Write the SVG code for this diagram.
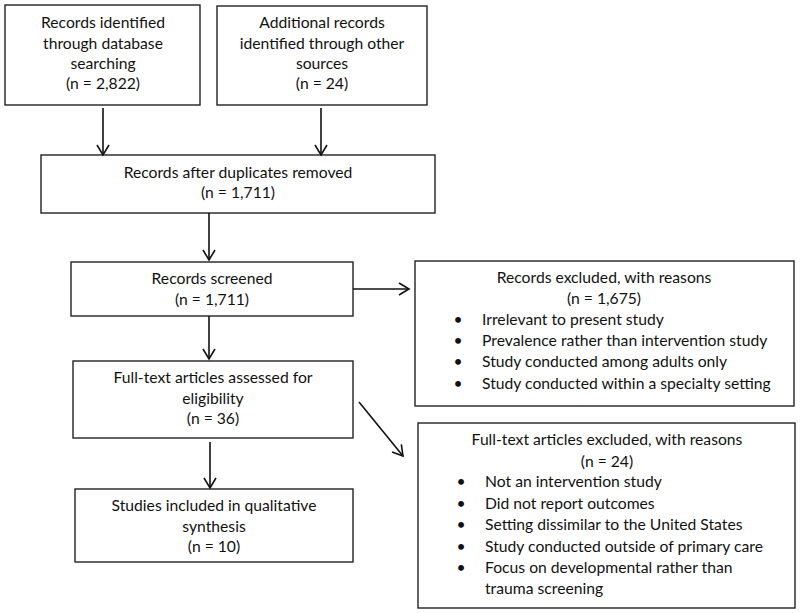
<svg xmlns="http://www.w3.org/2000/svg" width="800" height="613" viewBox="0 0 800 613">
<defs>
<marker id="ah" markerWidth="14" markerHeight="14" refX="11" refY="7" orient="auto" markerUnits="userSpaceOnUse">
<polyline points="1,1 11,7 1,13" fill="none" stroke="#111" stroke-width="1.6"/>
</marker>
<style>
.box{fill:#fff;stroke:#222;stroke-width:1.4}
text{font-family:Lato,"Open Sans","Liberation Sans",sans-serif;font-size:15.7px;fill:#111}
.c{text-anchor:middle}
.b{text-anchor:middle}
.conn line{stroke:#111;stroke-width:1.6;marker-end:url(#ah)}
</style>
</defs>
<rect width="800" height="613" fill="#fff"/>
<g id="n1">
<rect class="box" x="5" y="5" width="195" height="100"/>
<text class="c" x="103" y="28">Records identified</text>
<text class="c" x="103" y="48.5">through database</text>
<text class="c" x="103" y="69">searching</text>
<text class="c" x="103" y="89">(n = 2,822)</text>
</g>
<g id="n2">
<rect class="box" x="217" y="6" width="210" height="99"/>
<text class="c" x="322" y="28">Additional records</text>
<text class="c" x="322" y="48.5">identified through other</text>
<text class="c" x="322" y="69">sources</text>
<text class="c" x="322" y="89">(n = 24)</text>
</g>
<g id="n3">
<rect class="box" x="41" y="155" width="394" height="58"/>
<text class="c" x="238" y="178">Records after duplicates removed</text>
<text class="c" x="238" y="198">(n = 1,711)</text>
</g>
<g id="n4">
<rect class="box" x="71" y="262" width="282" height="54"/>
<text class="c" x="212" y="284">Records screened</text>
<text class="c" x="212" y="305">(n = 1,711)</text>
</g>
<g id="n5">
<rect class="box" x="415" y="261" width="379" height="145"/>
<text class="c" x="604" y="283">Records excluded, with reasons</text>
<text class="c" x="604" y="304">(n = 1,675)</text>
<text class="b" x="458" y="325">•</text><text x="482" y="325">Irrelevant to present study</text>
<text class="b" x="458" y="346">•</text><text x="482" y="346">Prevalence rather than intervention study</text>
<text class="b" x="458" y="367">•</text><text x="482" y="367">Study conducted among adults only</text>
<text class="b" x="458" y="389">•</text><text x="482" y="389">Study conducted within a specialty setting</text>
</g>
<g id="n6">
<rect class="box" x="73" y="361" width="280" height="77"/>
<text class="c" x="213" y="383">Full-text articles assessed for</text>
<text class="c" x="213" y="403.5">eligibility</text>
<text class="c" x="213" y="424">(n = 36)</text>
</g>
<g id="n7">
<rect class="box" x="75" y="489" width="278" height="73"/>
<text class="c" x="214" y="511">Studies included in qualitative</text>
<text class="c" x="214" y="531.5">synthesis</text>
<text class="c" x="214" y="552">(n = 10)</text>
</g>
<g id="n8">
<rect class="box" x="418" y="423" width="377" height="185"/>
<text class="c" x="607" y="445">Full-text articles excluded, with reasons</text>
<text class="c" x="607" y="467">(n = 24)</text>
<text class="b" x="461" y="487">•</text><text x="485" y="487">Not an intervention study</text>
<text class="b" x="461" y="509">•</text><text x="485" y="509">Did not report outcomes</text>
<text class="b" x="461" y="530">•</text><text x="485" y="530">Setting dissimilar to the United States</text>
<text class="b" x="461" y="552">•</text><text x="485" y="552">Study conducted outside of primary care</text>
<text class="b" x="461" y="573">•</text><text x="485" y="573">Focus on developmental rather than</text>
<text x="485" y="594">trauma screening</text>
</g>
<g id="connectors" class="conn">
<line x1="103" y1="108" x2="103" y2="155"/>
<line x1="321" y1="108" x2="321" y2="155"/>
<line x1="209" y1="213" x2="209" y2="260"/>
<line x1="353" y1="289" x2="409" y2="289"/>
<line x1="209" y1="316" x2="209" y2="359"/>
<line x1="359" y1="402" x2="403" y2="456"/>
<line x1="210" y1="442" x2="210" y2="488"/>
</g>
</svg>
